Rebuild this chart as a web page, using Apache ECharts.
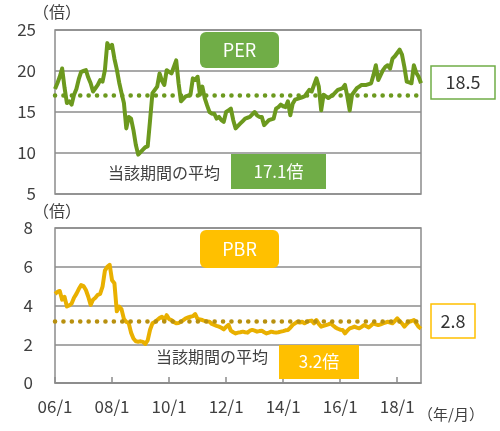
<!DOCTYPE html>
<html>
<head>
<meta charset="utf-8">
<script src="https://cdn.jsdelivr.net/npm/echarts@6/dist/echarts.min.js"></script>
<style>
html,body{margin:0;padding:0;background:#fff;}
#c{width:500px;height:431px;}
</style>
</head>
<body>
<div id="c"></div>
<script>
// ---- data ----
const startYear = 2006;
const monthCount = 155; // 2006/1 .. 2018/11
const perValues = [
17.8,18.5,19.3,20.3,18.0,16.1,16.3,15.9,17.1,17.8,19.0,19.9,20.0,20.1,19.2,18.5,17.5,17.9,18.3,18.9,
18.7,20.1,23.4,22.8,23.2,21.5,20.2,18.6,17.3,16.1,13.0,14.4,14.2,12.8,11.0,9.8,10.1,10.4,10.7,10.8,
14.0,17.3,17.7,18.1,19.7,18.8,18.3,20.1,19.9,19.7,20.5,21.3,18.5,16.3,16.6,16.9,17.0,17.1,19.1,18.9,
19.3,17.1,18.1,16.7,15.8,15.0,14.8,14.8,14.2,14.4,14.0,13.8,15.0,15.2,15.4,14.0,13.0,13.3,13.6,13.9,
14.2,14.3,14.4,14.7,15.0,14.6,14.4,14.4,13.4,13.7,14.0,14.1,14.2,15.4,15.6,15.9,15.7,15.6,16.3,14.6,
16.0,16.5,16.6,16.7,16.8,16.9,17.3,17.7,17.5,18.3,19.1,18.1,15.2,17.1,16.9,16.7,16.9,17.1,17.4,17.7,
17.8,17.9,18.3,16.9,15.2,17.1,17.5,17.9,18.1,18.3,18.3,18.3,18.4,18.5,19.5,20.7,18.9,19.5,20.1,20.5,
20.7,20.3,21.5,21.8,22.2,22.6,22.0,20.5,18.7,18.6,18.5,20.7,19.8,19.3,18.5
];
const pbrValues = [
4.6,4.7,4.75,4.3,4.45,3.95,4.0,4.1,4.4,4.6,4.85,5.05,5.0,4.8,4.45,4.03,4.3,4.4,4.55,4.6,
4.97,5.8,6.0,6.1,5.3,5.15,3.7,3.95,3.8,3.3,3.15,3.1,2.6,2.3,2.15,2.13,2.15,2.12,2.02,2.2,
2.75,3.08,3.15,3.25,3.35,3.42,3.25,3.5,3.3,3.25,3.15,3.08,3.1,3.16,3.25,3.34,3.38,3.42,3.45,3.56,
3.3,3.28,3.25,3.2,3.18,3.16,3.05,3.0,2.95,2.91,2.85,2.77,2.9,3.0,2.7,2.62,2.56,2.6,2.62,2.65,
2.62,2.6,2.7,2.74,2.7,2.65,2.68,2.7,2.62,2.56,2.6,2.65,2.62,2.6,2.62,2.65,2.68,2.72,2.74,2.85,
3.0,3.08,3.16,3.12,3.16,3.08,3.15,3.2,3.22,3.08,3.25,3.05,2.91,2.95,2.99,3.03,3.08,2.97,2.87,2.8,
2.75,2.74,2.56,2.7,2.82,2.86,2.91,2.86,2.82,2.9,2.99,2.93,2.87,2.97,3.08,3.03,2.99,3.03,3.08,3.12,
3.16,3.12,3.08,3.2,3.34,3.2,3.08,2.91,3.05,3.16,3.2,3.25,3.08,2.9,2.8
];
const perAverage = 17.1;
const pbrAverage = 3.2;
const perLatest = 18.5;
const pbrLatest = 2.8;
const perTicks = [5, 25, 5];   // min, max, interval
const pbrTicks = [0, 8, 2];

const categories = [];
for (let i = 0; i < monthCount; i++) {
  const y = startYear + Math.floor(i / 12);
  const m = (i % 12) + 1;
  categories.push(String(y % 100).padStart(2, '0') + '/' + m);
}

// ---- style ----
const FONT = '"Noto Sans CJK JP", "Noto Sans", sans-serif';
const GRAY = '#8c8c8c';
const TXT = '#404040';
const PER_LINE = '#6c991e';
const PER_BOX = '#70ad47';
const PBR_LINE = '#e9b000';
const PBR_BOX = '#ffc000';
const PBR_DOT = '#b8900f';
const tickEvery = (idx) => idx % 24 === 0;

const chart = echarts.init(document.getElementById('c'), null, {renderer: 'canvas'});

function box(x, y, w, h, fill, stroke, text, color, size, r) {
  return {
    type: 'group',
    children: [
      {type: 'rect', shape: {x: x, y: y, width: w, height: h, r: r || 0},
       style: {fill: fill, stroke: stroke || null, lineWidth: stroke ? 1.5 : 0}, z: 10},
      {type: 'text', x: x + w / 2, y: y + h / 2,
       style: {text: text, fill: color, font: size + 'px ' + FONT, align: 'center', verticalAlign: 'middle'}, z: 11}
    ]
  };
}

const option = {
  animation: false,
  backgroundColor: '#fff',
  grid: [
    {left: 55, top: 30, width: 366, height: 164, show: true, borderColor: GRAY, borderWidth: 1.5},
    {left: 55, top: 228, width: 366, height: 155, show: true, borderColor: GRAY, borderWidth: 1.5}
  ],
  xAxis: [
    {type: 'category', gridIndex: 0, data: categories, boundaryGap: false,
     axisLine: {show: false}, axisTick: {show: false}, axisLabel: {show: false}, splitLine: {show: false}},
    {type: 'category', gridIndex: 1, data: categories, boundaryGap: false,
     axisLine: {show: true, lineStyle: {color: GRAY, width: 1.5}},
     axisTick: {show: true, inside: true, length: 6, interval: tickEvery, lineStyle: {color: GRAY, width: 1.5}},
     axisLabel: {show: true, interval: tickEvery, color: TXT, fontSize: 17, fontFamily: FONT, margin: 15},
     splitLine: {show: false}}
  ],
  yAxis: [
    {type: 'value', gridIndex: 0, min: perTicks[0], max: perTicks[1], interval: perTicks[2],
     axisLine: {show: false}, axisTick: {show: false},
     axisLabel: {color: TXT, fontSize: 17, fontFamily: FONT, margin: 19},
     splitLine: {show: true, lineStyle: {color: GRAY, width: 1.5}}},
    {type: 'value', gridIndex: 1, min: pbrTicks[0], max: pbrTicks[1], interval: pbrTicks[2],
     axisLine: {show: false}, axisTick: {show: false},
     axisLabel: {color: TXT, fontSize: 17, fontFamily: FONT, margin: 22},
     splitLine: {show: true, lineStyle: {color: GRAY, width: 1.5}}}
  ],
  series: [
    {type: 'line', xAxisIndex: 0, yAxisIndex: 0, data: perValues, showSymbol: false, symbol: 'none',
     lineStyle: {color: PER_LINE, width: 4, join: 'round'}, z: 3,
     markLine: {silent: true, symbol: 'none', label: {show: false},
       lineStyle: {color: PER_LINE, width: 4.5, type: [0.1, 8.3], cap: 'round'},
       data: [{yAxis: perAverage}]}},
    {type: 'line', xAxisIndex: 1, yAxisIndex: 1, data: pbrValues, showSymbol: false, symbol: 'none',
     lineStyle: {color: PBR_LINE, width: 4, join: 'round'}, z: 3,
     markLine: {silent: true, symbol: 'none', label: {show: false},
       lineStyle: {color: PBR_DOT, width: 4.5, type: [0.1, 8.3], cap: 'round'},
       data: [{yAxis: pbrAverage}]}}
  ],
  graphic: [
    {type: 'text', left: 33, top: 4, style: {text: '（倍）', fill: TXT, font: '16px ' + FONT}},
    {type: 'text', left: 33, top: 203, style: {text: '（倍）', fill: TXT, font: '16px ' + FONT}},
    {type: 'text', left: 418, top: 407, style: {text: '（年/月）', fill: TXT, font: '15px ' + FONT}},
    box(200, 32, 79, 36, PER_BOX, null, 'PER', '#fff', 18, 6),
    {type: 'text', x: 164, y: 173, style: {text: '当該期間の平均', fill: TXT, font: '16px ' + FONT, align: 'center', verticalAlign: 'middle'}, z: 11},
    box(231, 154, 95, 35, PER_BOX, null, perAverage.toFixed(1) + '倍', '#fff', 17, 0),
    box(431, 66, 64, 33, '#fff', PER_BOX, perLatest.toFixed(1), '#333', 18, 0),
    box(200, 230, 79, 38, PBR_BOX, null, 'PBR', '#fff', 18, 6),
    {type: 'text', x: 212, y: 357, style: {text: '当該期間の平均', fill: TXT, font: '16px ' + FONT, align: 'center', verticalAlign: 'middle'}, z: 11},
    box(279, 345, 80, 34, PBR_BOX, null, pbrAverage.toFixed(1) + '倍', '#fff', 17, 0),
    box(431, 304, 44, 34, '#fff', PBR_BOX, pbrLatest.toFixed(1), '#333', 18, 0)
  ]
};
chart.setOption(option);
</script>
</body>
</html>
